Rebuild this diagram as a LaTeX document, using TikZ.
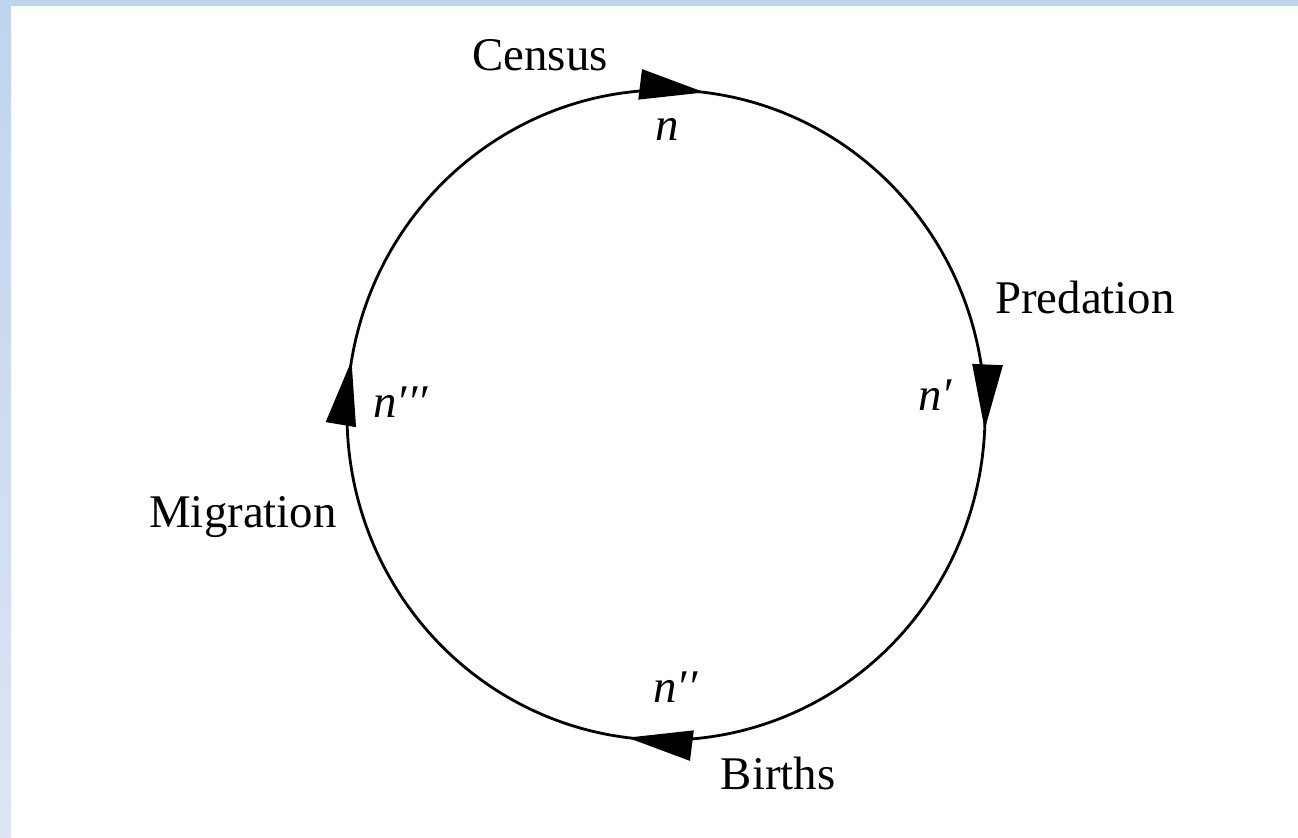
\documentclass[tikz,border=0pt]{standalone}
\usepackage{fontspec}
\setmainfont{Liberation Serif}
\usetikzlibrary{arrows.meta,calc,decorations.markings}
\definecolor{bandtop}{HTML}{BED5EE}
\definecolor{bandbot}{HTML}{DDE5F2}

\begin{document}
\begin{tikzpicture}[x=0.5bp, y=0.5bp, font=\fontsize{23.5}{27}\selectfont,
  lbl/.style={anchor=base, inner sep=0pt},
  pop/.style={anchor=base west, inner sep=0pt, font=\fontsize{23.5}{27}\selectfont\itshape},
  cyc/.style={line width=1.4bp, postaction={decorate},
    decoration={markings, mark=at position 0.9995 with {\arrow{Triangle[length=32.5bp, width=15bp]}}}}]
  \useasboundingbox (0,0) rectangle (1298,-837);
  \fill[bandtop] (0,0) rectangle (1298,-6);
  \shade[top color=bandtop, bottom color=bandbot] (0,-6) rectangle (11,-837);
  % the life cycle
  \coordinate (c) at (666,-415);
  \coordinate (tC) at ($(c)+(83:319 and 325)$);
  \coordinate (tP) at ($(c)+(-2.6:319 and 325)$);
  \coordinate (tB) at ($(c)+(263:319 and 325)$);
  \coordinate (tM) at ($(c)+(170.3:319 and 325)$);
  \draw[cyc] (tC) arc[start angle=83, end angle=-2.6, x radius=319, y radius=325];
  \draw[cyc] (tP) arc[start angle=-2.6, end angle=-97, x radius=319, y radius=325];
  \draw[cyc] (tB) arc[start angle=263, end angle=170.3, x radius=319, y radius=325];
  \draw[cyc] (tM) arc[start angle=170.3, end angle=83, x radius=319, y radius=325];
  \node[lbl] (census) at (540,-70) {Census};
  \node[lbl] (predation) at (1085,-313) {Predation};
  \node[lbl] (births) at (778,-789) {Births};
  \node[lbl] (migration) at (243,-527) {Migration};
  \node[pop] (n0) at (655,-140) {n};
  \node[pop] (n1) at (918,-410) {n′};
  \node[pop] (n2) at (653,-702) {n′′};
  \node[pop] (n3) at (373,-417) {n′′′};
\end{tikzpicture}
\end{document}
